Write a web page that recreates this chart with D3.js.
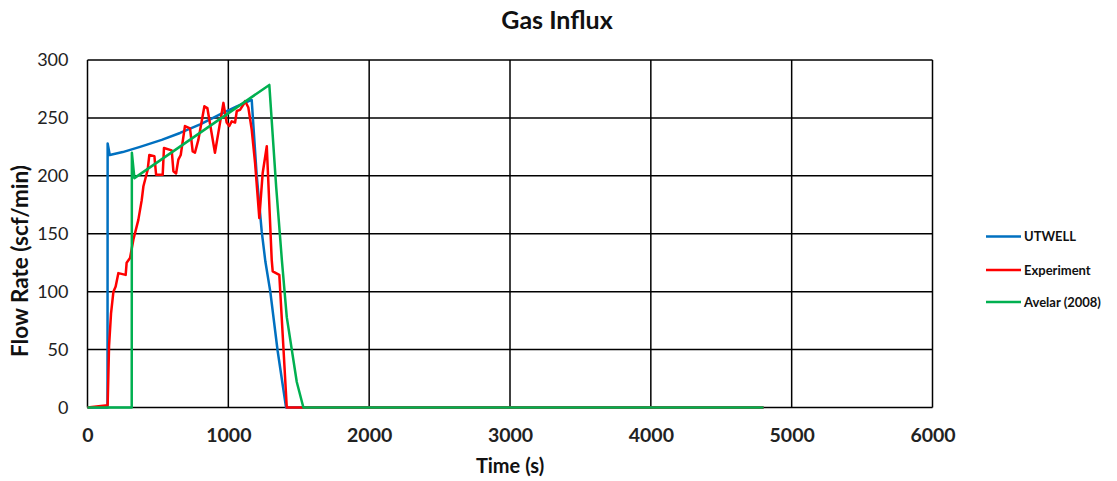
<!DOCTYPE html>
<html>
<head>
<meta charset="utf-8">
<script src="https://cdn.jsdelivr.net/npm/d3@7/dist/d3.min.js"></script>
<style>
  html, body { margin: 0; padding: 0; background: #fff; }
  svg { display: block; font-family: Lato, "Open Sans", "Liberation Sans", sans-serif; }
</style>
</head>
<body>
<svg id="chart" width="1117" height="481"></svg>
<script>
// Gas influx flow rate vs time: simulator, experiment and Avelar (2008) model
const seriesNames = ["UTWELL", "Experiment", "Avelar (2008)"];
const seriesColors = ["#0070C0", "#FF0000", "#00B050"];

const xTicks = [0, 1000, 2000, 3000, 4000, 5000, 6000];
const yTicks = [0, 50, 100, 150, 200, 250, 300];

// Time (s)
const utwellTime = [0, 142, 143, 158, 250, 373, 527, 657, 800, 941, 1060, 1166, 1201, 1237, 1263, 1298, 1350, 1410, 4800];
// Flow rate (scf/min)
const utwellRate = [0, 0, 228, 218, 220.5, 225, 231, 237, 244.5, 253, 260, 265.5, 201, 152, 126, 100, 49, 0, 0];

const experimentTime = [0, 143, 153, 167, 184, 200, 219, 271, 278, 302, 326, 361, 385, 397, 427, 439, 475, 487, 534, 543, 598, 610, 629, 645, 662, 692, 728, 747, 763, 787, 830, 851, 905, 965, 988, 1007, 1024, 1048, 1060, 1083, 1107, 1119, 1142, 1166, 1190, 1220, 1244, 1273, 1308, 1315, 1362, 1415, 4800];
const experimentRate = [0, 2, 53, 81, 100, 104.5, 116, 114.5, 125, 129, 145, 162, 179, 191, 205, 218, 217, 201, 201, 224, 222, 204, 202, 214, 218, 243, 241, 221, 220, 231, 260, 258.5, 220, 263, 246, 243, 247, 246, 256, 257, 261.5, 264.5, 259, 240, 211, 163.5, 202.5, 225.5, 127.5, 117.5, 114.5, 0, 0];

const avelarTime = [0, 314, 315, 333, 1291, 1340, 1380, 1415, 1486, 1533, 4800];
const avelarRate = [0, 0, 220, 198, 278.5, 190, 127.5, 78, 22, 0, 0];

const seriesData = [
  d3.zip(utwellTime, utwellRate),
  d3.zip(experimentTime, experimentRate),
  d3.zip(avelarTime, avelarRate)
];

const svg = d3.select("#chart");
const plot = { left: 87.5, right: 932.5, top: 60, bottom: 407.5 };

const x = d3.scaleLinear().domain([0, 6000]).range([plot.left, plot.right]);
const y = d3.scaleLinear().domain([0, 300]).range([plot.bottom, plot.top]);

// Grid
const grid = svg.append("g").attr("stroke", "#000").attr("stroke-width", 1.5);
grid.selectAll("line.h").data(yTicks).join("line")
  .attr("x1", plot.left).attr("x2", plot.right)
  .attr("y1", d => y(d)).attr("y2", d => y(d));
grid.selectAll("line.v").data(xTicks).join("line")
  .attr("y1", plot.top).attr("y2", plot.bottom)
  .attr("x1", d => x(d)).attr("x2", d => x(d));

// Axes labels
const yAxis = svg.append("g")
  .attr("transform", `translate(${plot.left - 19},0)`)
  .call(d3.axisLeft(y).tickValues(yTicks).tickSize(0).tickPadding(0));
yAxis.select(".domain").remove();
yAxis.selectAll("text")
  .attr("font-size", 18).attr("fill", "#222")
  .style("font-family", "Lato, 'Open Sans', sans-serif");

const xAxis = svg.append("g")
  .attr("transform", `translate(0,${plot.bottom + 21})`)
  .call(d3.axisBottom(x).tickValues(xTicks).tickSize(0).tickPadding(0).tickFormat(d3.format("d")));
xAxis.select(".domain").remove();
xAxis.selectAll("text")
  .attr("font-size", 19.5).attr("font-weight", "bold").attr("fill", "#222")
  .style("font-family", "Lato, 'Open Sans', sans-serif");

// Series
const line = d3.line().x(d => x(d[0])).y(d => y(d[1]));
svg.append("g").selectAll("path").data(seriesData).join("path")
  .attr("d", line)
  .attr("fill", "none")
  .attr("stroke", (d, i) => seriesColors[i])
  .attr("stroke-width", 2.5)
  .attr("stroke-linejoin", "round");

// Titles
svg.append("text")
  .attr("x", 557).attr("y", 29)
  .attr("text-anchor", "middle")
  .attr("font-size", 25).attr("font-weight", "bold").attr("fill", "#111")
  .text("Gas Influx");

svg.append("text")
  .attr("x", 510).attr("y", 473)
  .attr("text-anchor", "middle")
  .attr("font-size", 20).attr("font-weight", "bold").attr("fill", "#111")
  .text("Time (s)");

svg.append("text")
  .attr("transform", `translate(28,261) rotate(-90)`)
  .attr("text-anchor", "middle")
  .attr("font-size", 22.5).attr("font-weight", "bold").attr("fill", "#111")
  .text("Flow Rate (scf/min)");

// Legend
const legend = svg.append("g");
const legendRows = [236.5, 270, 302];
seriesNames.forEach((name, i) => {
  legend.append("line")
    .attr("x1", 986).attr("x2", 1021)
    .attr("y1", legendRows[i]).attr("y2", legendRows[i])
    .attr("stroke", seriesColors[i]).attr("stroke-width", 2.5);
  legend.append("text")
    .attr("x", 1024).attr("y", legendRows[i] + 4.5)
    .attr("font-size", 13).attr("font-weight", "bold").attr("fill", "#111")
    .text(name);
});
</script>
</body>
</html>
